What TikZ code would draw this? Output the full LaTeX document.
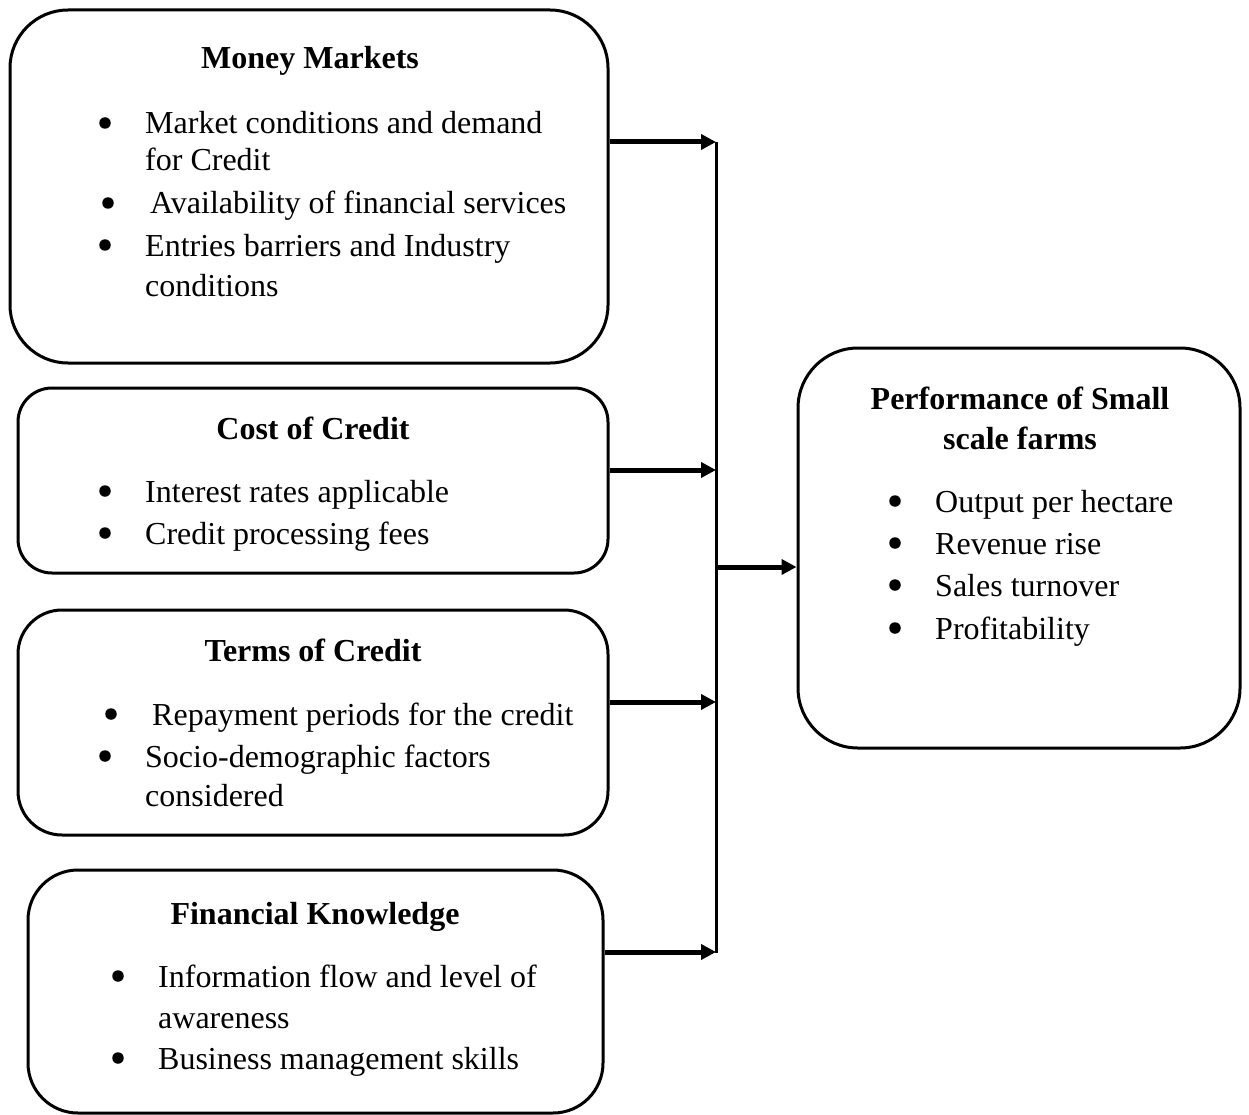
\documentclass[tikz,border=0pt]{standalone}
\usepackage{fontspec}
\setmainfont{Liberation Serif}
\usetikzlibrary{arrows.meta}
\begin{document}
\begin{tikzpicture}[x=1pt,y=-1pt,
  box/.style={draw=black, line width=3pt, rectangle, inner sep=0pt},
  txt/.style={anchor=base west, inner sep=0pt, font=\fontsize{32}{38}\selectfont},
  ttl/.style={anchor=base, inner sep=0pt, font=\fontsize{32}{38}\selectfont\bfseries},
  bul/.style={circle, fill=black, inner sep=0pt, minimum size=11.5pt},
  arr/.style={line width=5pt, -{Triangle[length=15pt,width=15pt]}},
  vline/.style={line width=3pt}]
\useasboundingbox (0,0) rectangle (1249,1115);
% boxes
\node[box, rounded corners=58pt, minimum width=598pt, minimum height=353pt] (mm) at (309,186.5) {};
\node[box, rounded corners=34pt, minimum width=590pt, minimum height=185pt] (cc) at (313,480.5) {};
\node[box, rounded corners=44pt, minimum width=590pt, minimum height=225pt] (tc) at (313,722.5) {};
\node[box, rounded corners=50pt, minimum width=575pt, minimum height=243pt] (fk) at (315.5,991.5) {};
\node[box, rounded corners=60pt, minimum width=442pt, minimum height=400pt] (pf) at (1019,548) {};
% Money Markets
\node[ttl] (t1) at (310,69) {Money Markets};
\node[bul] (b11) at (105,123) {};
\node[txt] (l11) at (145,134) {Market conditions and demand};
\node[txt] (l12) at (145,171) {for Credit};
\node[bul] (b12) at (108,203) {};
\node[txt] (l13) at (150,214) {Availability of financial services};
\node[bul] (b13) at (105,245) {};
\node[txt] (l14) at (145,256) {Entries barriers and Industry};
\node[txt] (l15) at (145,296) {conditions};
% Cost of Credit
\node[ttl] (t2) at (313,439) {Cost of Credit};
\node[bul] (b21) at (105,491) {};
\node[txt] (l21) at (145,502) {Interest rates applicable};
\node[bul] (b22) at (105,533) {};
\node[txt] (l22) at (145,544) {Credit processing fees};
% Terms of Credit
\node[ttl] (t3) at (313,661) {Terms of Credit};
\node[bul] (b31) at (111,714) {};
\node[txt] (l31) at (152,725) {Repayment periods for the credit};
\node[bul] (b32) at (105,756) {};
\node[txt] (l32) at (145,767) {Socio-demographic factors};
\node[txt] (l33) at (145,806) {considered};
% Financial Knowledge
\node[ttl] (t4) at (315,924) {Financial Knowledge};
\node[bul] (b41) at (118,976) {};
\node[txt] (l41) at (158,987) {Information flow and level of};
\node[txt] (l42) at (158,1028) {awareness};
\node[bul] (b42) at (118,1058) {};
\node[txt] (l43) at (158,1069) {Business management skills};
% Performance
\node[ttl] (t5) at (1020,409) {Performance of Small};
\node[ttl] (t6) at (1020,449) {scale farms};
\node[bul] (b51) at (895,501) {};
\node[txt] (l51) at (935,512) {Output per hectare};
\node[bul] (b52) at (895,543) {};
\node[txt] (l52) at (935,554) {Revenue rise};
\node[bul] (b53) at (895,585) {};
\node[txt] (l53) at (935,596) {Sales turnover};
\node[bul] (b54) at (895,628) {};
\node[txt] (l54) at (935,639) {Profitability};
% connectors
\coordinate (vt) at (716,142);
\coordinate (vb) at (716,953);
\coordinate (v1) at (716,142);
\coordinate (v2) at (716,470);
\coordinate (v3) at (716,702);
\coordinate (v4) at (716,952);
\coordinate (vp) at (716,567);
\draw[vline] (vt) -- (vb);
\draw[arr] (mm.east |- v1) -- (v1);
\draw[arr] (cc.east |- v2) -- (v2);
\draw[arr] (tc.east |- v3) -- (v3);
\draw[arr] (fk.east |- v4) -- (v4);
\draw[arr] (vp) -- (vp -| pf.west);
\end{tikzpicture}
\end{document}
